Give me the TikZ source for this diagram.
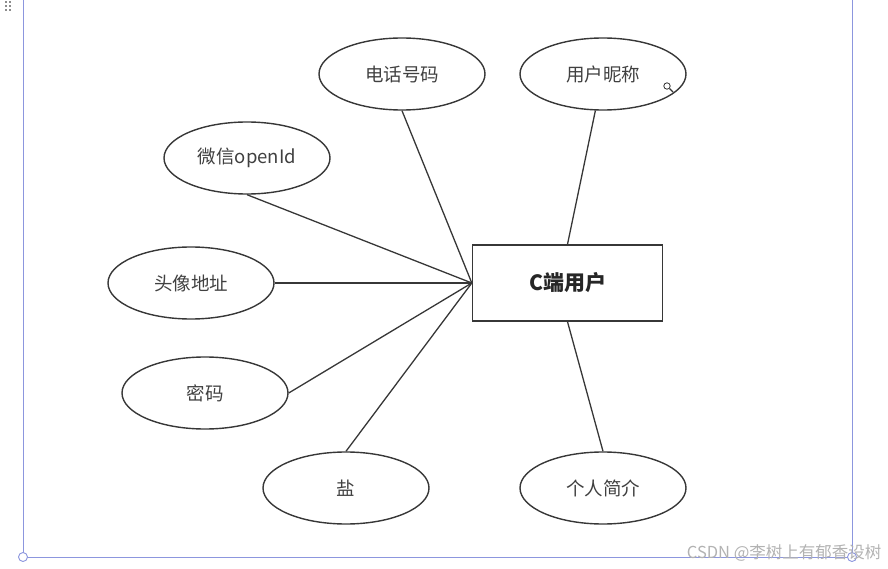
\documentclass[tikz,border=0pt]{standalone}
\usepackage{fontspec}
\setmainfont{Noto Sans CJK SC}
\usepackage{xcolor}
\definecolor{cadre}{RGB}{140,150,222}
\definecolor{trait}{RGB}{55,55,55}
\usetikzlibrary{shapes.geometric}

\begin{document}
\begin{tikzpicture}[x=1pt, y=-1pt,
      attr/.style={ellipse, draw=trait, line width=1.4pt, inner sep=0pt,
                   minimum width=166pt, minimum height=72pt,
                   font=\fontsize{18.5}{22}\selectfont, text=black!75},
      entite/.style={rectangle, draw=trait, line width=1.4pt, inner sep=0pt,
                     minimum width=190pt, minimum height=76pt,
                     font=\fontsize{21}{25}\selectfont\bfseries, text=black!85},
      lien/.style={draw=trait, line width=1.3pt},
      cadre/.style={draw=cadre, line width=0.9pt},
      poignee/.style={circle, draw=cadre, fill=white, line width=0.9pt,
                      inner sep=0pt, minimum size=9pt},
      filigrane/.style={font=\fontsize{16.5}{20}\selectfont, text=black!30, anchor=east}]
    \useasboundingbox (0,0) rectangle (888,569);
    % cadre de selection
    \draw[cadre] (23,0) -- (23,557) -- (852,557) -- (852,0);
    \node[poignee] (h1) at (23,557) {};
    \node[poignee] (h2) at (852,557) {};
    \foreach \gx in {6,10}
      \foreach \gy in {2,6,10}
        \fill[black!45] (\gx-1,\gy-1) rectangle (\gx+1,\gy+1);
    % entite et attributs
    \node[entite] (user)   at (567.5,283) {C端用户};
    \node[attr]   (phone)  at (402,74)  {电话号码};
    \node[attr]   (nick)   at (603,74)  {用户昵称};
    \node[attr]   (wechat) at (247,158) {微信openId};
    \node[attr]   (avatar) at (191,283) {头像地址};
    \node[attr]   (pwd)    at (205,393) {密码};
    \node[attr]   (salt)   at (346,488) {盐};
    \node[attr]   (intro)  at (603,488) {个人简介};
    \draw[lien] (phone.south)  -- (user.west);
    \draw[lien] (wechat.south) -- (user.west);
    \draw[lien] (avatar.east)  -- (user.west);
    \draw[lien] (pwd.east)     -- (user.west);
    \draw[lien] (salt.north)   -- (user.west);
    \draw[lien] (nick)         -- (user.north);
    \draw[lien] (intro.north)  -- (user.south);
    % curseur loupe
    \draw[black!80, line width=0.8pt] (667,86) circle (3.2);
    \draw[black!80, line width=1.2pt] (669.5,88.5) -- (673,92);
    \node[filigrane] (wm) at (885,553) {CSDN @李树上有郁香设树};
  \end{tikzpicture}
\end{document}
